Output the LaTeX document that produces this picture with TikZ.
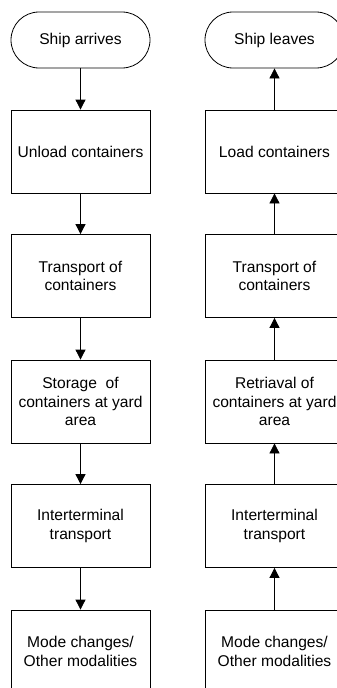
\documentclass[tikz,border=0pt]{standalone}
\usepackage{fontspec}
\setmainfont{Liberation Sans}
\usetikzlibrary{arrows.meta}
\begin{document}
\begin{tikzpicture}[x=1pt,y=-1pt,
  every node/.style={font=\fontsize{15.6}{18.7}\selectfont, align=center, inner sep=0pt},
  procbox/.style={draw, line width=0.8pt, minimum width=139pt, minimum height=83pt},
  termbox/.style={draw, line width=0.8pt, minimum width=139pt, minimum height=56pt, rounded corners=28pt},
  flow/.style={line width=0.8pt, -{Triangle[width=10pt,length=10pt]}}]
\useasboundingbox (0,0) rectangle (337,688);
% left column
\node[termbox] (sa) at (80.5,40) {Ship arrives};
\node[procbox] (ul) at (80.5,151.5) {Unload containers};
\node[procbox] (tl) at (80.5,276) {Transport of\\containers};
\node[procbox] (sl) at (80.5,401.5) {Storage\ \ of\\containers at yard\\area};
\node[procbox] (il) at (80.5,526) {Interterminal\\transport};
\node[procbox] (ml) at (80.5,651.5) {Mode changes/\\Other modalities};
% right column
\node[termbox] (sr) at (274.5,40) {Ship leaves};
\node[procbox] (lr) at (274.5,151.5) {Load containers};
\node[procbox] (tr) at (274.5,276) {Transport of\\containers};
\node[procbox] (rr) at (274.5,401.5) {Retriaval of\\containers at yard\\area};
\node[procbox] (ir) at (274.5,526) {Interterminal\\transport};
\node[procbox] (mr) at (274.5,651.5) {Mode changes/\\Other modalities};
% arrows left (downward)
\draw[flow] (sa) -- (ul);
\draw[flow] (ul) -- (tl);
\draw[flow] (tl) -- (sl);
\draw[flow] (sl) -- (il);
\draw[flow] (il) -- (ml);
% arrows right (upward)
\draw[flow] (mr) -- (ir);
\draw[flow] (ir) -- (rr);
\draw[flow] (rr) -- (tr);
\draw[flow] (tr) -- (lr);
\draw[flow] (lr) -- (sr);
\end{tikzpicture}
\end{document}
